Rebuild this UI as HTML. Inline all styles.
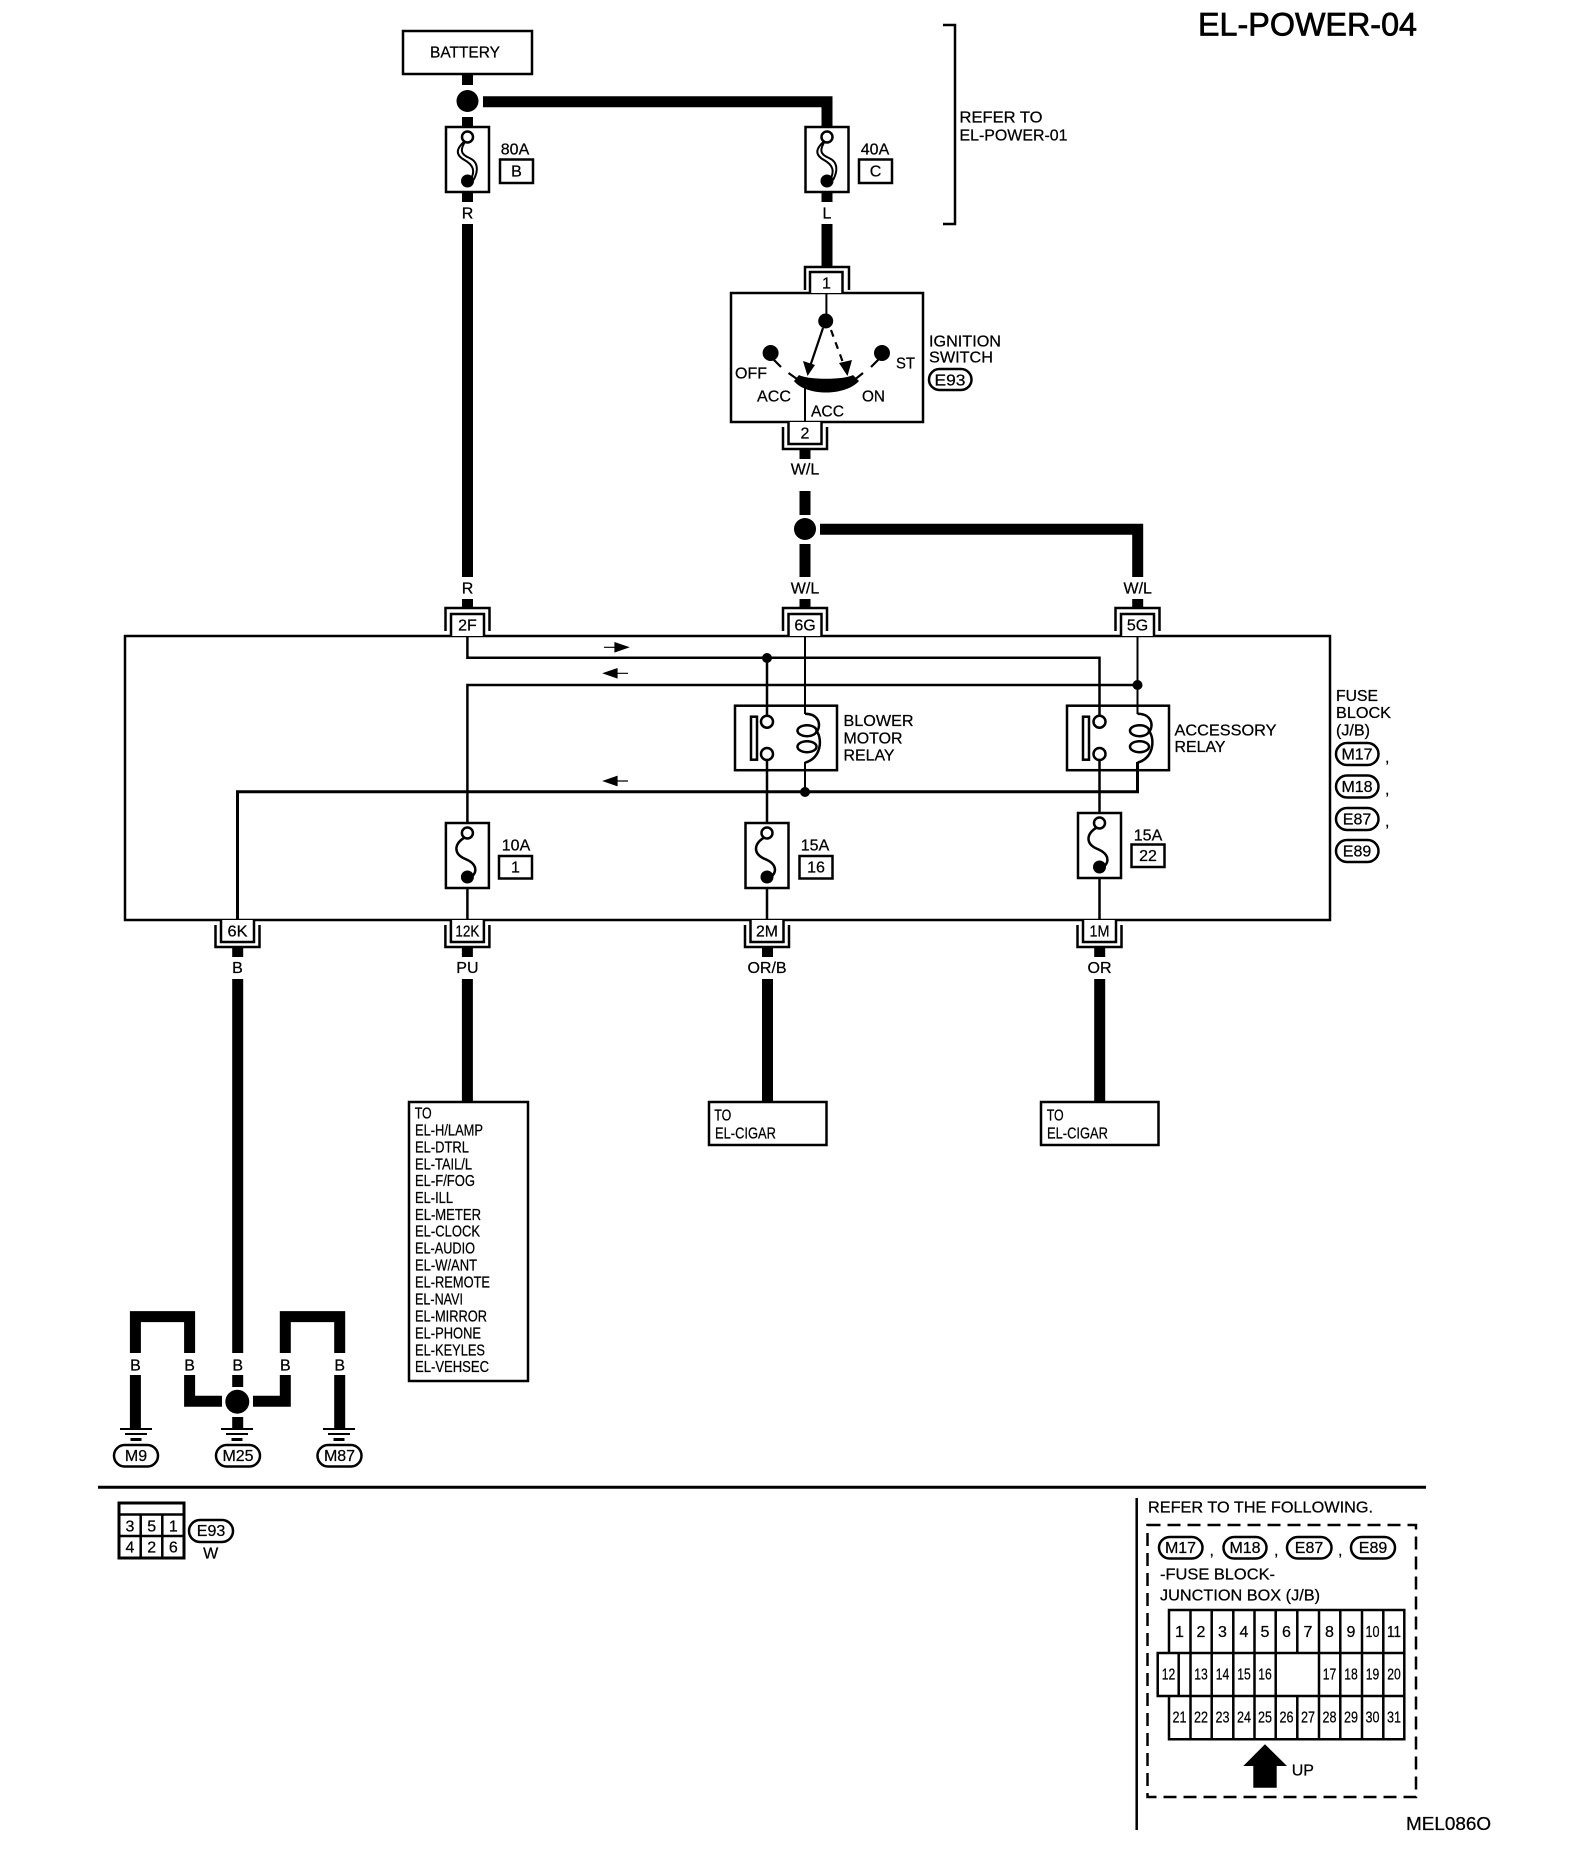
<!DOCTYPE html>
<html><head><meta charset="utf-8"><title>EL-POWER-04</title>
<style>
html,body{margin:0;padding:0;background:#fff}
svg{display:block}
text{font-family:"Liberation Sans",sans-serif;font-size:16px;fill:#000;stroke:#000;stroke-width:.25;transform:translateY(-.7px)}
.m{text-anchor:middle}
.w{fill:none;stroke:#000;stroke-width:11}
.t{fill:none;stroke:#000;stroke-width:2.5}
.b{fill:#fff;stroke:#000;stroke-width:2.5}
</style></head><body>
<svg width="1584" height="1862" viewBox="0 0 1584 1862" xmlns="http://www.w3.org/2000/svg">
<defs>
<g id="fuse"><rect x="-21.5" y="0" width="43" height="65" class="b"/>
<path d="M-2,14 C-14,21 -14,31 -2,36 C10,41 10,49 4,54" class="t"/>
<circle cx="0" cy="10" r="5.5" fill="#fff" stroke="#000" stroke-width="2.5"/>
<circle cx="0" cy="54" r="6.5" fill="#000"/></g>
<g id="fuset"><rect x="-21.5" y="0" width="43" height="65" class="b"/>
<path d="M-2.5,14 C-12,22 -12,28 -3,33 C6,38 8,44 3,53 M-2,14 C-7,22 -8,27 2,31 C11,35 11,44 6,53" fill="none" stroke="#000" stroke-width="2"/>
<circle cx="0" cy="10" r="5.5" fill="#fff" stroke="#000" stroke-width="2.5"/>
<circle cx="0" cy="54" r="6.5" fill="#000"/></g>
<g id="ctop"><path d="M-22,23 V0 H22 V23" class="t"/><path d="M-16.5,28 V6 H16.5 V28" class="b"/></g>
<g id="cbot"><path d="M-22,5 V27 H22 V5" class="t"/><path d="M-16.5,0 V22 H16.5 V0" class="b"/></g>
<g id="coil"><path d="M0,8 C12,8 17,17 12,26 C17,33 17,52 0,57" class="t"/>
<ellipse cx="2" cy="25" rx="9.5" ry="5.5" class="t"/><ellipse cx="2" cy="41" rx="9.5" ry="5.5" class="t"/></g>
<g id="rel"><rect x="0" y="0" width="102" height="64.5" class="b"/>
<rect x="16" y="11" width="6" height="43" fill="#fff" stroke="#000" stroke-width="2.5"/></g>
<g id="gnd"><path d="M-16,0 H16 M-11,5 H11" stroke="#000" stroke-width="2" fill="none"/><path d="M-5.5,10.5 H5.5" stroke="#000" stroke-width="3" fill="none"/></g>
<path id="ra" d="M1,0 H12 V-4.5 L25,0 L12,4.5 V0 Z" stroke="#000" stroke-width="1.2" fill="#000"/>
<path id="la" d="M25,0 H14 V-4.5 L1,0 L14,4.5 V0 Z" stroke="#000" stroke-width="1.2" fill="#000"/>
</defs>

<text x="1198" y="36" style="font-size:32px;stroke-width:.7" textLength="219" lengthAdjust="spacingAndGlyphs">EL-POWER-04</text>

<!-- battery -->
<rect x="403" y="31" width="129" height="43" class="b"/>
<text x="430" y="58" textLength="70" lengthAdjust="spacingAndGlyphs">BATTERY</text>
<path d="M467.5,74 V85 M467.5,117 V127 M467.5,192 V202 M467.5,224 V577 M467.5,599 V608" class="w"/>
<circle cx="467.5" cy="101" r="11" fill="#000"/>
<path d="M483,101.7 H827 V127 M827,192 V202 M827,224 V267" class="w"/>
<use href="#fuset" x="467.5" y="127"/><use href="#fuset" x="827" y="127"/>
<text x="515" y="155" class="m">80A</text><rect x="500" y="159.5" width="33" height="23.5" class="b"/><text x="516.5" y="177" class="m">B</text>
<text x="875" y="155" class="m">40A</text><rect x="859" y="159.5" width="33" height="23.5" class="b"/><text x="875.5" y="177" class="m">C</text>
<text x="467.5" y="219" class="m">R</text><text x="827" y="219" class="m">L</text>
<path d="M943,25 H955 V224 H943" class="t"/>
<text x="959.5" y="123" textLength="83" lengthAdjust="spacingAndGlyphs">REFER TO</text>
<text x="959.5" y="141" textLength="108" lengthAdjust="spacingAndGlyphs">EL-POWER-01</text>

<!-- ignition switch -->
<path d="M805,290 V267 H849 V290" class="t"/>
<rect x="731" y="293" width="192" height="129" class="b"/>
<path d="M810,293 V272 H842.5 V293" class="b"/>
<text x="826.4" y="289" class="m">1</text>
<path d="M826.4,293 V318" stroke="#000" stroke-width="2" fill="none"/>
<circle cx="825.7" cy="321" r="7.5" fill="#000"/>
<path d="M823,328 L809.5,368" stroke="#000" stroke-width="2.2" fill="none"/>
<path d="M807.5,376 L803,361 L815,365 Z" fill="#000"/>
<path d="M831,330 L845,368" stroke="#000" stroke-width="2.2" fill="none" stroke-dasharray="7 6"/>
<path d="M847.5,376 L839,363 L852,360 Z" fill="#000"/>
<circle cx="770.6" cy="353" r="8" fill="#000"/><path d="M772,358 L781,367" stroke="#000" stroke-width="2.2"/>
<circle cx="882" cy="353" r="8" fill="#000"/><path d="M880,358 L871,367" stroke="#000" stroke-width="2.2"/>
<path d="M788.5,373 L797,379 M863,373 L855.5,379" stroke="#000" stroke-width="2.2"/>
<path d="M799,375 C808,380 844,380 853,375 L859,381 C852,389 838,392.5 826,392.5 C814,392.5 800,389 794,381 Z" fill="#000"/>
<path d="M805,388 V422" stroke="#000" stroke-width="2" fill="none"/>
<text x="735" y="379" textLength="32" lengthAdjust="spacingAndGlyphs">OFF</text>
<text x="757" y="402" textLength="34" lengthAdjust="spacingAndGlyphs">ACC</text>
<text x="811" y="417" textLength="33" lengthAdjust="spacingAndGlyphs">ACC</text>
<text x="862" y="402" textLength="23" lengthAdjust="spacingAndGlyphs">ON</text>
<text x="896" y="369" textLength="19" lengthAdjust="spacingAndGlyphs">ST</text>
<text x="929" y="347" textLength="72" lengthAdjust="spacingAndGlyphs">IGNITION</text>
<text x="929" y="363" textLength="64" lengthAdjust="spacingAndGlyphs">SWITCH</text>
<rect x="929" y="369" width="42.5" height="21" rx="10.5" class="b"/><text x="950" y="386" class="m" textLength="31" lengthAdjust="spacingAndGlyphs">E93</text>
<use href="#cbot" x="805" y="422"/>
<text x="805" y="439" class="m">2</text>
<path d="M805,449 V459 M805,491 V515 M805,544 V577 M805,599 V608" class="w"/>
<text x="805" y="475" class="m">W/L</text>
<circle cx="805" cy="529" r="11" fill="#000"/>
<path d="M820,529.3 H1137.7 V577 M1137.7,599 V608" class="w"/>
<text x="467.5" y="594" class="m">R</text><text x="805" y="594" class="m">W/L</text><text x="1137.7" y="594" class="m">W/L</text>

<!-- fuse block -->
<rect x="125" y="636" width="1205" height="284" class="b"/>
<use href="#ctop" x="467.5" y="608"/><use href="#ctop" x="805" y="608"/><use href="#ctop" x="1137.5" y="608"/>
<text x="467.5" y="631" class="m">2F</text><text x="805" y="631" class="m">6G</text><text x="1137.5" y="631" class="m">5G</text>

<use href="#rel" x="735" y="705.7"/><use href="#rel" x="1067" y="705.7"/>
<path d="M467.4,636 V657.7 H1099.5 V716 M1099.5,760 V817 M467.4,827 V685 H1137.5 M767,658 V716 M767,760 V827" class="t"/>
<path d="M805,636 V714 M805,762 V792 M1137.5,636 V714" stroke="#000" stroke-width="2" fill="none"/>
<path d="M1137.5,762 V791.7 H237.5 V920" stroke="#000" stroke-width="3" fill="none"/>
<use href="#coil" x="805" y="705.7"/><use href="#coil" x="1137.5" y="705.7"/>
<circle cx="767" cy="721.7" r="6" fill="#fff" stroke="#000" stroke-width="2.5"/><circle cx="767" cy="754" r="6" fill="#fff" stroke="#000" stroke-width="2.5"/>
<circle cx="1099.5" cy="721.7" r="6" fill="#fff" stroke="#000" stroke-width="2.5"/><circle cx="1099.5" cy="754" r="6" fill="#fff" stroke="#000" stroke-width="2.5"/>
<circle cx="767" cy="658" r="5" fill="#000"/><circle cx="1137.5" cy="685" r="5" fill="#000"/><circle cx="805" cy="792" r="5" fill="#000"/>
<use href="#ra" x="603" y="647.3"/><use href="#la" x="603" y="673.3"/><use href="#la" x="603" y="781"/>
<text x="843.5" y="726.5" textLength="70" lengthAdjust="spacingAndGlyphs">BLOWER</text>
<text x="843.5" y="744" textLength="59" lengthAdjust="spacingAndGlyphs">MOTOR</text>
<text x="843.5" y="761" textLength="51" lengthAdjust="spacingAndGlyphs">RELAY</text>
<text x="1174.5" y="736" textLength="102" lengthAdjust="spacingAndGlyphs">ACCESSORY</text>
<text x="1174.5" y="752.5" textLength="51" lengthAdjust="spacingAndGlyphs">RELAY</text>

<use href="#fuse" x="467.4" y="823"/><use href="#fuse" x="767" y="823"/><use href="#fuse" x="1099.5" y="813"/>
<path d="M467.4,888 V920 M767,888 V920 M1099.5,878 V920" class="t"/>
<text x="516" y="851" class="m">10A</text><rect x="499" y="856" width="33" height="22.5" class="b"/><text x="515.5" y="873" class="m">1</text>
<text x="815" y="851" class="m">15A</text><rect x="799.5" y="856" width="33" height="22.5" class="b"/><text x="816" y="873" class="m">16</text>
<text x="1148" y="841" class="m">15A</text><rect x="1131.5" y="844.5" width="33" height="22.5" class="b"/><text x="1148" y="861.5" class="m">22</text>

<text x="1336" y="701.5" textLength="42" lengthAdjust="spacingAndGlyphs">FUSE</text>
<text x="1336" y="718.5" textLength="55" lengthAdjust="spacingAndGlyphs">BLOCK</text>
<text x="1336" y="736" textLength="34" lengthAdjust="spacingAndGlyphs">(J/B)</text>
<rect x="1336" y="743" width="42.5" height="22" rx="11" class="b"/><text x="1357" y="760" class="m">M17</text><text x="1385" y="763">,</text>
<rect x="1336" y="775.5" width="42.5" height="22" rx="11" class="b"/><text x="1357" y="792.5" class="m">M18</text><text x="1385" y="795">,</text>
<rect x="1336" y="808" width="42.5" height="22" rx="11" class="b"/><text x="1357" y="825" class="m">E87</text><text x="1385" y="827">,</text>
<rect x="1336" y="840" width="42.5" height="22" rx="11" class="b"/><text x="1357" y="857" class="m">E89</text>

<!-- bottom connectors -->
<use href="#cbot" x="237.5" y="920"/><use href="#cbot" x="467.4" y="920"/><use href="#cbot" x="767" y="920"/><use href="#cbot" x="1099.5" y="920"/>
<text x="237.5" y="937" class="m" textLength="20" lengthAdjust="spacingAndGlyphs">6K</text>
<text x="467.4" y="937" class="m" textLength="24" lengthAdjust="spacingAndGlyphs">12K</text>
<text x="767" y="937" class="m" textLength="22" lengthAdjust="spacingAndGlyphs">2M</text>
<text x="1099.5" y="937" class="m" textLength="20" lengthAdjust="spacingAndGlyphs">1M</text>
<text x="237.5" y="973.5" class="m">B</text><text x="467.4" y="973.5" class="m">PU</text><text x="767" y="973.5" class="m">OR/B</text><text x="1099.5" y="973.5" class="m">OR</text>
<path d="M237.7,947 V957 M237.7,979 V1353 M237.7,1375 V1387 M237.7,1417 V1429 M467.4,947 V957 M467.4,979 V1102 M767.5,947 V957 M767.5,979 V1102 M1099.7,947 V957 M1099.7,979 V1102" class="w"/>

<!-- TO boxes -->
<rect x="409" y="1102" width="119" height="279" class="b"/>
<text x="414.7" y="1119" textLength="17" lengthAdjust="spacingAndGlyphs">TO</text>
<text x="415" y="1136" textLength="68" lengthAdjust="spacingAndGlyphs">EL-H/LAMP</text>
<text x="415" y="1153" textLength="54" lengthAdjust="spacingAndGlyphs">EL-DTRL</text>
<text x="415" y="1170" textLength="57" lengthAdjust="spacingAndGlyphs">EL-TAIL/L</text>
<text x="415" y="1186.5" textLength="60" lengthAdjust="spacingAndGlyphs">EL-F/FOG</text>
<text x="415" y="1203.5" textLength="38" lengthAdjust="spacingAndGlyphs">EL-ILL</text>
<text x="415" y="1220.5" textLength="66" lengthAdjust="spacingAndGlyphs">EL-METER</text>
<text x="415" y="1237" textLength="65" lengthAdjust="spacingAndGlyphs">EL-CLOCK</text>
<text x="415" y="1254" textLength="60" lengthAdjust="spacingAndGlyphs">EL-AUDIO</text>
<text x="415" y="1271" textLength="62" lengthAdjust="spacingAndGlyphs">EL-W/ANT</text>
<text x="415" y="1288" textLength="75" lengthAdjust="spacingAndGlyphs">EL-REMOTE</text>
<text x="415" y="1305" textLength="48" lengthAdjust="spacingAndGlyphs">EL-NAVI</text>
<text x="415" y="1322" textLength="72" lengthAdjust="spacingAndGlyphs">EL-MIRROR</text>
<text x="415" y="1339" textLength="66" lengthAdjust="spacingAndGlyphs">EL-PHONE</text>
<text x="415" y="1356" textLength="70" lengthAdjust="spacingAndGlyphs">EL-KEYLES</text>
<text x="415" y="1372.5" textLength="74" lengthAdjust="spacingAndGlyphs">EL-VEHSEC</text>

<rect x="709" y="1102" width="117.5" height="43" class="b"/>
<text x="714.3" y="1121" textLength="17" lengthAdjust="spacingAndGlyphs">TO</text>
<text x="715" y="1139" textLength="61" lengthAdjust="spacingAndGlyphs">EL-CIGAR</text>
<rect x="1041" y="1102" width="117.5" height="43" class="b"/>
<text x="1046.7" y="1121" textLength="17" lengthAdjust="spacingAndGlyphs">TO</text>
<text x="1047" y="1139" textLength="61" lengthAdjust="spacingAndGlyphs">EL-CIGAR</text>

<!-- grounds -->
<path d="M135.4,1353 V1316.6 H189.6 V1353 M135.4,1375 V1429 M189.6,1375 V1401.3 H222 M285.3,1375 V1401.3 H253 M285.3,1353 V1316.6 H339.7 V1353 M339.7,1375 V1429" class="w" stroke-linejoin="miter"/>
<circle cx="237.3" cy="1401.7" r="12" fill="#000"/>
<text x="135.4" y="1371" class="m">B</text><text x="189.6" y="1371" class="m">B</text><text x="237.7" y="1371" class="m">B</text><text x="285.3" y="1371" class="m">B</text><text x="339.7" y="1371" class="m">B</text>
<use href="#gnd" x="136" y="1429"/><use href="#gnd" x="237" y="1429"/><use href="#gnd" x="339" y="1429"/>
<rect x="114" y="1445" width="44" height="21.5" rx="10.7" class="b"/><text x="136" y="1461.5" class="m">M9</text>
<rect x="216" y="1445" width="44" height="21.5" rx="10.7" class="b"/><text x="238" y="1461.5" class="m">M25</text>
<rect x="317.5" y="1445" width="44" height="21.5" rx="10.7" class="b"/><text x="339.5" y="1461.5" class="m">M87</text>

<path d="M98,1487.3 H1426" stroke="#000" stroke-width="3" fill="none"/>

<!-- connector E93 -->
<rect x="119" y="1503" width="65" height="55" fill="#fff" stroke="#000" stroke-width="3"/>
<path d="M119,1514.5 H184 M119,1536 H184 M140.7,1514.5 V1558 M162.3,1514.5 V1558" class="t"/>
<text x="130" y="1532" class="m">3</text><text x="151.7" y="1532" class="m">5</text><text x="173.3" y="1532" class="m">1</text>
<text x="130" y="1553" class="m">4</text><text x="151.7" y="1553" class="m">2</text><text x="173.3" y="1553" class="m">6</text>
<rect x="189" y="1520" width="44" height="22" rx="11" class="b"/><text x="211" y="1536.5" class="m">E93</text>
<text x="210.7" y="1559" class="m">W</text>

<!-- legend -->
<path d="M1136.7,1498 V1830" stroke="#000" stroke-width="2.5" fill="none"/>
<text x="1148" y="1513" textLength="225" lengthAdjust="spacingAndGlyphs">REFER TO THE FOLLOWING.</text>
<rect x="1147.5" y="1525" width="268.5" height="272" fill="none" stroke="#000" stroke-width="2.5" stroke-dasharray="13 7"/>
<rect x="1159" y="1537" width="43.5" height="21.5" rx="10.7" class="b"/><text x="1180.5" y="1553.5" class="m">M17</text><text x="1209.5" y="1556">,</text>
<rect x="1223.5" y="1537" width="43" height="21.5" rx="10.7" class="b"/><text x="1245" y="1553.5" class="m">M18</text><text x="1274" y="1556">,</text>
<rect x="1287" y="1537" width="44.5" height="21.5" rx="10.7" class="b"/><text x="1309" y="1553.5" class="m">E87</text><text x="1338" y="1556">,</text>
<rect x="1351" y="1537" width="44" height="21.5" rx="10.7" class="b"/><text x="1373" y="1553.5" class="m">E89</text>
<text x="1160" y="1580" textLength="115" lengthAdjust="spacingAndGlyphs">-FUSE BLOCK-</text>
<text x="1160" y="1601" textLength="160" lengthAdjust="spacingAndGlyphs">JUNCTION BOX (J/B)</text>

<path d="M1169,1610 H1404.3 V1739.3 H1169 V1696 H1157.7 V1653 H1169 V1610 Z M1157.7,1653 H1404.3 M1157.7,1696 H1404.3
M1178.7,1653 V1696
M1190.5,1610 V1739.3 M1211.7,1610 V1739.3 M1233.3,1610 V1739.3 M1254.5,1610 V1739.3 M1275.7,1610 V1739.3
M1297.3,1610 V1653 M1297.3,1696 V1739.3 M1319,1610 V1739.3 M1340.3,1610 V1739.3 M1362,1610 V1739.3 M1383.3,1610 V1739.3" class="t"/>

<text x="1179.5" y="1637.5" class="m">1</text><text x="1201" y="1637.5" class="m">2</text><text x="1222.5" y="1637.5" class="m">3</text><text x="1244" y="1637.5" class="m">4</text><text x="1265" y="1637.5" class="m">5</text><text x="1286.5" y="1637.5" class="m">6</text><text x="1308" y="1637.5" class="m">7</text><text x="1329.5" y="1637.5" class="m">8</text><text x="1351" y="1637.5" class="m">9</text>
<text x="1372.5" y="1637.5" class="m" textLength="14" lengthAdjust="spacingAndGlyphs">10</text><text x="1394" y="1637.5" class="m" textLength="14" lengthAdjust="spacingAndGlyphs">11</text>
<text x="1168.5" y="1680" class="m" textLength="13.5" lengthAdjust="spacingAndGlyphs">12</text><text x="1201" y="1680" class="m" textLength="13.5" lengthAdjust="spacingAndGlyphs">13</text><text x="1222.5" y="1680" class="m" textLength="13.5" lengthAdjust="spacingAndGlyphs">14</text><text x="1244" y="1680" class="m" textLength="13.5" lengthAdjust="spacingAndGlyphs">15</text><text x="1265" y="1680" class="m" textLength="13.5" lengthAdjust="spacingAndGlyphs">16</text>
<text x="1329.5" y="1680" class="m" textLength="13.5" lengthAdjust="spacingAndGlyphs">17</text><text x="1351" y="1680" class="m" textLength="13.5" lengthAdjust="spacingAndGlyphs">18</text><text x="1372.5" y="1680" class="m" textLength="13.5" lengthAdjust="spacingAndGlyphs">19</text><text x="1394" y="1680" class="m" textLength="13.5" lengthAdjust="spacingAndGlyphs">20</text>
<text x="1179.5" y="1723" class="m" textLength="14" lengthAdjust="spacingAndGlyphs">21</text><text x="1201" y="1723" class="m" textLength="14" lengthAdjust="spacingAndGlyphs">22</text><text x="1222.5" y="1723" class="m" textLength="14" lengthAdjust="spacingAndGlyphs">23</text><text x="1244" y="1723" class="m" textLength="14" lengthAdjust="spacingAndGlyphs">24</text><text x="1265" y="1723" class="m" textLength="14" lengthAdjust="spacingAndGlyphs">25</text><text x="1286.5" y="1723" class="m" textLength="14" lengthAdjust="spacingAndGlyphs">26</text><text x="1308" y="1723" class="m" textLength="14" lengthAdjust="spacingAndGlyphs">27</text><text x="1329.5" y="1723" class="m" textLength="14" lengthAdjust="spacingAndGlyphs">28</text><text x="1351" y="1723" class="m" textLength="14" lengthAdjust="spacingAndGlyphs">29</text><text x="1372.5" y="1723" class="m" textLength="14" lengthAdjust="spacingAndGlyphs">30</text><text x="1394" y="1723" class="m" textLength="14" lengthAdjust="spacingAndGlyphs">31</text>

<path d="M1265,1744.3 L1287,1766 H1276.7 V1787.7 H1253.3 V1766 H1243.3 Z" fill="#000"/>
<text x="1291.7" y="1776">UP</text>
<text x="1406" y="1830.5" style="font-size:18px" textLength="85" lengthAdjust="spacingAndGlyphs">MEL086O</text>
</svg>
</body></html>
